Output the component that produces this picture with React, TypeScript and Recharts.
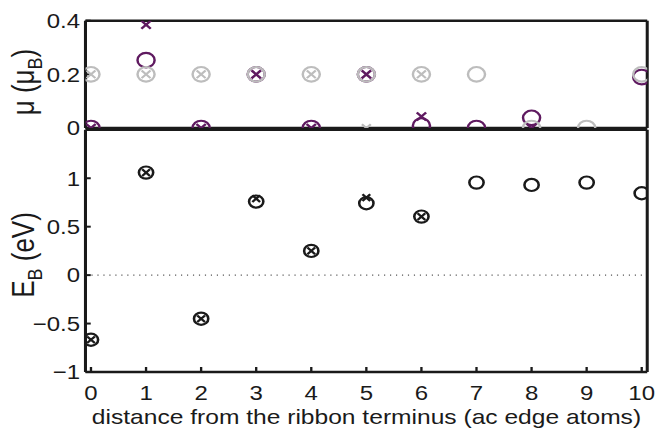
import React from 'react';
import { ScatterChart, Scatter, XAxis, YAxis, ReferenceLine, Label, CartesianGrid } from 'recharts';

// ---- data ----
const SITES = [0, 1, 2, 3, 4, 5, 6, 7, 8, 9, 10];
const X_TICKS = [0, 1, 2, 3, 4, 5, 6, 7, 8, 9, 10];
const MU_TICKS = [0, 0.2, 0.4];
const EB_TICKS = [-1, -0.5, 0, 0.5, 1];

// magnetic moment (top panel)
const muPurpleO: (number | null)[] = [0, 0.253, 0, 0.2, 0, 0.2, 0.009, 0, 0.038, null, 0.19];
const muGrayO: (number | null)[] = [0.2, 0.2, 0.2, 0.2, 0.2, 0.2, 0.2, 0.2, 0, 0, 0.2];
const muGrayX: (number | null)[] = [0.2, 0.2, 0.2, 0.2, 0.2, 0, 0.2, null, null, null, null];
const muPurpleX: (number | null)[] = [0, 0.385, 0, 0.2, 0, 0.2, 0.043, null, 0, null, null];

// binding energy (bottom panel)
const ebO: (number | null)[] = [-0.667, 1.058, -0.45, 0.759, 0.25, 0.742, 0.604, 0.955, 0.931, 0.955, 0.845];
const ebX: (number | null)[] = [-0.667, 1.058, -0.45, 0.79, 0.25, 0.8, 0.604, null, null, null, null];

const toPts = (vals: (number | null)[]) =>
  SITES.map((x, i) => ({ x, y: vals[i] })).filter((p) => p.y !== null);

// ---- styling ----
const W = 562;
const S = 658 / W;
const FONT = 'Liberation Sans, Arial, Helvetica, sans-serif';
const INK = '#1a1a1a';
const PURPLE = '#5f1a60';
const GRAY = '#bdbdbd';
const X_DOMAIN: [number, number] = [-0.1, 10.1];

const ring = (r: number, color: string, sw: number) => (p: any) => (
  <circle cx={p.cx} cy={p.cy} r={r} fill="none" stroke={color} strokeWidth={sw} />
);
const cross = (h: number, color: string, sw: number) => (p: any) => (
  <path
    d={`M${p.cx - h},${p.cy - h}L${p.cx + h},${p.cy + h}M${p.cx - h},${p.cy + h}L${p.cx + h},${p.cy - h}`}
    stroke={color}
    strokeWidth={sw}
    fill="none"
  />
);
const nothing = () => <g />;

const axisLine = { stroke: INK, strokeWidth: 2.6 };
const tickLine = { stroke: INK, strokeWidth: 2 };
const tickFont = { fontSize: 20.5, fill: INK, fontFamily: FONT };
const fmt = (v: number) => (v < 0 ? '\u2212' + String(-v) : String(v));

export default function App() {
  return (
    <div style={{ position: 'absolute', left: 0, top: 0, width: 658, height: 428, overflow: 'hidden', background: '#fff' }}>
      <div style={{ position: 'absolute', left: 0, top: 0, width: W, height: 428, transform: `scaleX(${S})`, transformOrigin: '0 0' }}>
        {/* top panel */}
        <div style={{ position: 'absolute', left: 0, top: 0 }}>
          <ScatterChart width={W} height={142} margin={{ top: 19.7, right: 0.2, bottom: 13, left: 0 }} style={{ overflow: 'hidden' }}>
            <XAxis xAxisId="t" orientation="top" type="number" dataKey="x" domain={X_DOMAIN} allowDataOverflow ticks={X_TICKS} interval={0} height={1} tick={false} tickSize={-5} axisLine={axisLine} tickLine={tickLine} />
            <XAxis xAxisId="b" orientation="bottom" type="number" dataKey="x" domain={X_DOMAIN} allowDataOverflow ticks={X_TICKS} interval={0} height={1} tick={false} tickSize={-5} axisLine={axisLine} tickLine={tickLine} />
            <YAxis yAxisId="l" orientation="left" type="number" dataKey="y" domain={[0, 0.4]} allowDataOverflow ticks={MU_TICKS} interval={0} width={73} tick={tickFont} tickSize={-4.5} tickMargin={9.1} tickFormatter={fmt} axisLine={axisLine} tickLine={tickLine}>
              <Label
                content={() => (
                  <text transform="translate(29,82) rotate(-90)" textAnchor="middle" fontFamily={FONT} fontSize={26} fill={INK}>
                    <tspan>μ (μ</tspan>
                    <tspan dy={7} fontSize={18}>B</tspan>
                    <tspan dy={-7}>)</tspan>
                  </text>
                )}
              />
            </YAxis>
            <YAxis yAxisId="r" orientation="right" type="number" dataKey="y" domain={[0, 0.4]} allowDataOverflow ticks={MU_TICKS} interval={0} width={9} tick={false} tickSize={-4.5} axisLine={axisLine} tickLine={tickLine} />
            <Scatter xAxisId="t" yAxisId="r" data={toPts(muGrayO)} shape={nothing} isAnimationActive={false} />
            <Scatter xAxisId="b" yAxisId="l" data={toPts(muPurpleO)} shape={ring(7.3, PURPLE, 2.1)} isAnimationActive={false} />
            <Scatter xAxisId="b" yAxisId="l" data={toPts(muGrayO)} shape={ring(7.3, GRAY, 2.1)} isAnimationActive={false} />
            <Scatter xAxisId="b" yAxisId="l" data={toPts(muGrayX)} shape={cross(3.8, GRAY, 2)} isAnimationActive={false} />
            <Scatter xAxisId="b" yAxisId="l" data={toPts(muPurpleX)} shape={cross(4, PURPLE, 2.2)} isAnimationActive={false} />
          </ScatterChart>
        </div>
        {/* bottom panel (drawn over the top panel, white plot background) */}
        <div style={{ position: 'absolute', left: 0, top: 124 }}>
          <ScatterChart width={W} height={304} margin={{ top: 4.8, right: 0.2, bottom: 0, left: 0 }} style={{ overflow: 'hidden' }}>
            <CartesianGrid xAxisId="b" yAxisId="l" fill="#ffffff" horizontal={false} vertical={false} />
            <XAxis xAxisId="t" orientation="top" type="number" dataKey="x" domain={X_DOMAIN} allowDataOverflow ticks={X_TICKS} interval={0} height={1} tick={false} tickSize={-5} axisLine={axisLine} tickLine={tickLine} />
            <XAxis xAxisId="b" orientation="bottom" type="number" dataKey="x" domain={X_DOMAIN} allowDataOverflow ticks={X_TICKS} interval={0} height={56} tick={tickFont} tickSize={-5} tickMargin={18.4} axisLine={axisLine} tickLine={tickLine}>
              <Label
                content={() => (
                  <text x={313} y={300.5} textAnchor="middle" fontFamily={FONT} fontSize={21} fill={INK}>
                    distance from the ribbon terminus (ac edge atoms)
                  </text>
                )}
              />
            </XAxis>
            <YAxis yAxisId="l" orientation="left" type="number" dataKey="y" domain={[-1, 1.5]} allowDataOverflow ticks={EB_TICKS} interval={0} width={73} tick={tickFont} tickSize={-4.5} tickMargin={9.1} tickFormatter={fmt} axisLine={axisLine} tickLine={tickLine}>
              <Label
                content={() => (
                  <text transform="translate(29,131) rotate(-90)" textAnchor="middle" fontFamily={FONT} fontSize={26} fill={INK}>
                    <tspan>E</tspan>
                    <tspan dy={7} fontSize={18}>B</tspan>
                    <tspan dy={-7}> (eV)</tspan>
                  </text>
                )}
              />
            </YAxis>
            <YAxis yAxisId="r" orientation="right" type="number" dataKey="y" domain={[-1, 1.5]} allowDataOverflow ticks={EB_TICKS} interval={0} width={9} tick={false} tickSize={-4.5} axisLine={axisLine} tickLine={tickLine} />
            <ReferenceLine xAxisId="b" yAxisId="l" y={0} stroke="#555" strokeWidth={1.4} strokeDasharray="1 4.1" />
            <Scatter xAxisId="t" yAxisId="r" data={toPts(ebO)} shape={nothing} isAnimationActive={false} />
            <Scatter xAxisId="b" yAxisId="l" data={toPts(ebO)} shape={ring(6.1, INK, 2.2)} isAnimationActive={false} />
            <Scatter xAxisId="b" yAxisId="l" data={toPts(ebX)} shape={cross(3.3, INK, 2.1)} isAnimationActive={false} />
          </ScatterChart>
        </div>
      </div>
    </div>
  );
}
